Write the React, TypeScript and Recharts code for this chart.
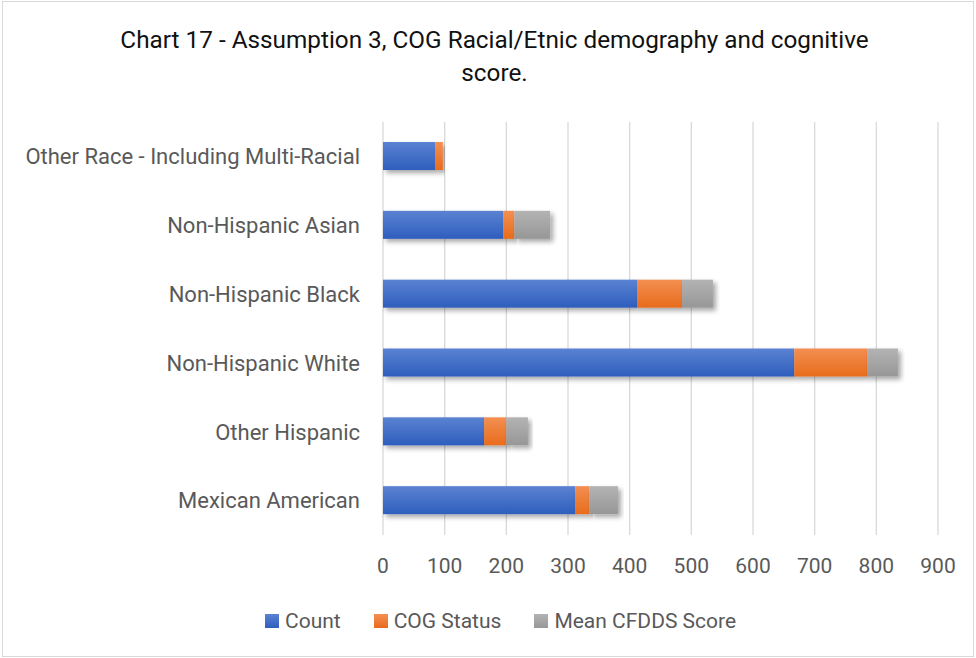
import { BarChart, Bar, XAxis, YAxis, CartesianGrid } from 'recharts';

// Racial / ethnic groups, listed top to bottom as on the chart
const groups = [
    'Other Race - Including Multi-Racial',
    'Non-Hispanic Asian',
    'Non-Hispanic Black',
    'Non-Hispanic White',
    'Other Hispanic',
    'Mexican American',
];

const countValues = [85, 195, 412, 667, 164, 312];
const cogStatusValues = [12, 18, 73, 118, 36, 23];
const meanCfddsValues = [0, 58, 50, 50, 35, 46];

const xTicks = [0, 100, 200, 300, 400, 500, 600, 700, 800, 900];

const seriesInfo = [
    { key: 'count', name: 'Count', grad: 'gradBlue', top: '#5b82d2', bottom: '#2e5ebd' },
    { key: 'cog', name: 'COG Status', grad: 'gradOrange', top: '#f38f52', bottom: '#e86c1b' },
    { key: 'cfdds', name: 'Mean CFDDS Score', grad: 'gradGray', top: '#b3b3b3', bottom: '#979797' },
];

const chartData = groups.map((g, i) => ({
    group: g,
    count: countValues[i],
    cog: cogStatusValues[i],
    cfdds: meanCfddsValues[i],
}));

const FONT = 'Roboto, "Open Sans", sans-serif';
const AXIS_TEXT = '#595959';

// bar segment with gradient fill and a soft drop shadow
const ShadowBar = (props: any) => {
    const { x, y, width, height, fill } = props;
    if (!width || width <= 0) return null;
    return <rect x={x} y={y} width={width} height={height} fill={fill} filter="url(#barShadow)" />;
};

export default function App() {
    return (
        <div style={{ position: 'absolute', left: 0, top: 0, width: 976, height: 658, background: '#fff' }}>
            {/* chart frame */}
            <div style={{ position: 'absolute', left: 2, top: 1, width: 970, height: 654, border: '1px solid #d9d9d9' }}></div>

            <div
                style={{
                    position: 'absolute',
                    left: 0,
                    top: 24,
                    width: 989,
                    textAlign: 'center',
                    fontFamily: FONT,
                    fontSize: 24.3,
                    lineHeight: '32.7px',
                    color: '#111',
                }}
            >
                Chart 17 - Assumption 3, COG Racial/Etnic demography and cognitive
                <br />
                score.
            </div>

            <BarChart
                width={976}
                height={658}
                data={chartData}
                layout="vertical"
                margin={{ top: 122, right: 38, bottom: 0, left: 0 }}
                style={{ position: 'absolute', left: 0, top: 0 }}
            >
                <defs>
                    {seriesInfo.map(s => (
                        <linearGradient key={s.grad} id={s.grad} x1="0" y1="0" x2="0" y2="1">
                            <stop offset="0%" stopColor={s.top} />
                            <stop offset="100%" stopColor={s.bottom} />
                        </linearGradient>
                    ))}
                    <filter id="barShadow" x="-10%" y="-30%" width="130%" height="180%">
                        <feDropShadow dx="3" dy="3" stdDeviation="2.5" floodColor="#000" floodOpacity="0.35" />
                    </filter>
                </defs>

                <CartesianGrid horizontal={false} stroke="#d9d9d9" strokeWidth={1.3} />
                <XAxis
                    type="number"
                    domain={[0, 900]}
                    ticks={xTicks}
                    interval={0}
                    axisLine={false}
                    tickLine={false}
                    tickSize={0}
                    tickMargin={23}
                    height={123}
                    tick={{ fill: AXIS_TEXT, fontSize: 21, fontFamily: FONT }}
                />
                <YAxis
                    type="category"
                    dataKey="group"
                    width={383}
                    axisLine={false}
                    tickLine={false}
                    tickSize={0}
                    tickMargin={23}
                    interval={0}
                    tick={{ fill: AXIS_TEXT, fontSize: 22, fontFamily: FONT }}
                />

                {seriesInfo.map(s => (
                    <Bar
                        key={s.key}
                        dataKey={s.key}
                        name={s.name}
                        stackId="a"
                        fill={`url(#${s.grad})`}
                        barSize={28}
                        shape={<ShadowBar />}
                        isAnimationActive={false}
                    />
                ))}
            </BarChart>

            {/* legend */}
            <div
                style={{
                    position: 'absolute',
                    left: 265,
                    top: 606,
                    display: 'flex',
                    gap: 33,
                    fontFamily: FONT,
                    fontSize: 21,
                    lineHeight: '30px',
                    color: AXIS_TEXT,
                }}
            >
                {seriesInfo.map(s => (
                    <div key={s.key} style={{ display: 'flex', alignItems: 'center', gap: 6 }}>
                        <span style={{ width: 14, height: 14, background: `linear-gradient(${s.top}, ${s.bottom})`, display: 'inline-block' }}></span>
                        <span>{s.name}</span>
                    </div>
                ))}
            </div>
        </div>
    );
}
